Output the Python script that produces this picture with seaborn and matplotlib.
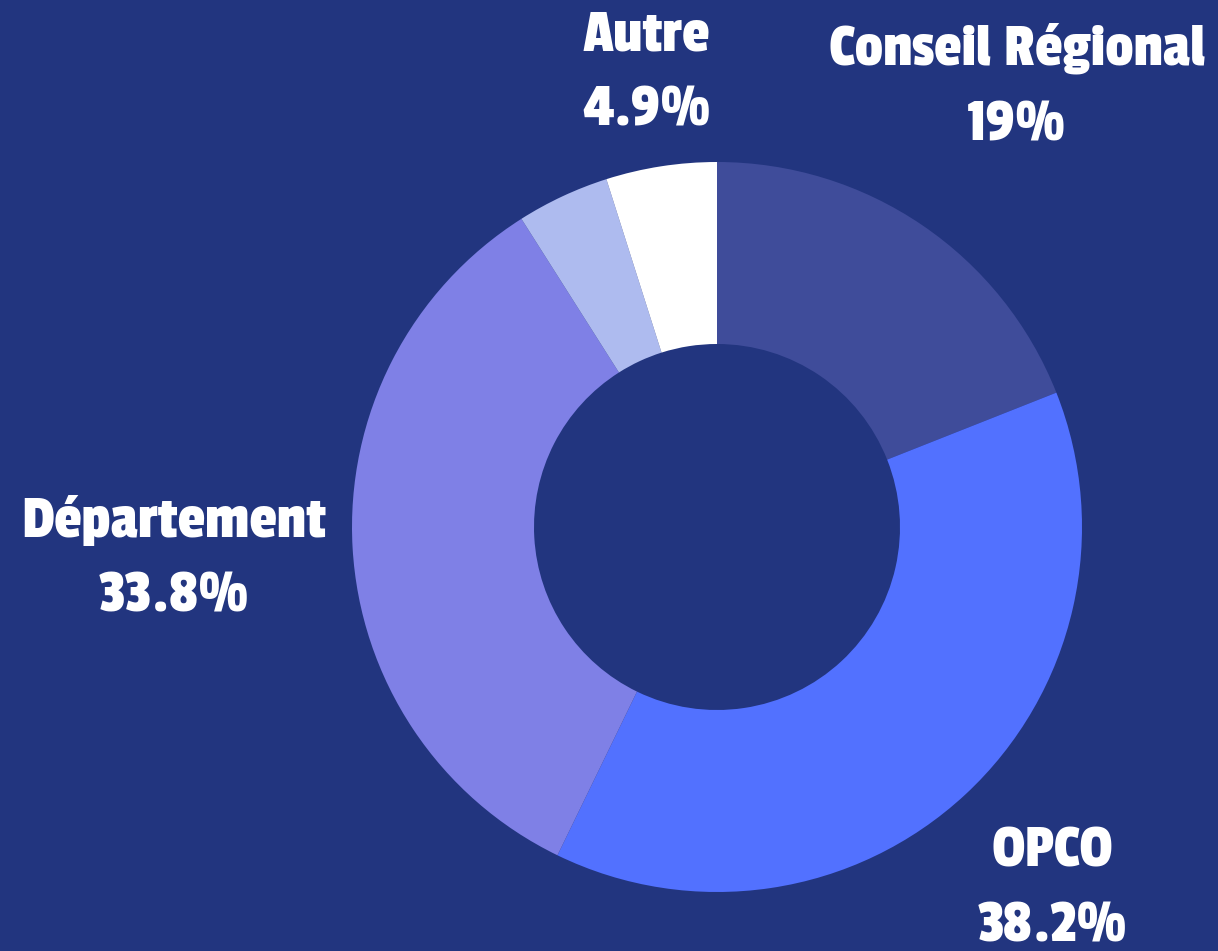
import matplotlib.pyplot as plt
import seaborn as sns
import numpy as np

# =========================
# DATA
# =========================
labels = ["Conseil Régional", "OPCO", "Département", "", "Autre"]
values = [19.0, 38.2, 33.8, 4.1, 4.9]
pct_text = ["19%", "38.2%", "33.8%", "", "4.9%"]
hex_colors = ["#3F4C9A", "#5271FF", "#7F80E6", "#AEBBEF", "#FFFFFF"]

# label distance (in radii) for each slice
label_r = [1.46, 1.35, 1.49, 0, 1.26]

BG = "#22357F"

sns.set_theme(style="white")
plt.rcParams['font.family'] = ['Passion One', 'DejaVu Sans']

fig = plt.figure(figsize=(12.18, 9.51), dpi=100, facecolor=BG)
ax = fig.add_axes([0, 0, 1, 1])
ax.set_facecolor(BG)

R = 365
cx, cy = 717, 424

wedges, _ = ax.pie(
    values,
    colors=sns.color_palette(hex_colors),
    startangle=90,
    counterclock=False,
    center=(cx, cy),
    radius=R,
    wedgeprops=dict(width=182, edgecolor="none", linewidth=0),
)

# =========================
# LABELS
# =========================
for w, name, pct, r in zip(wedges, labels, pct_text, label_r):
    if not name:
        continue
    ang = np.deg2rad((w.theta1 + w.theta2) / 2)
    x = cx + r * R * np.cos(ang)
    y = cy + r * R * np.sin(ang)
    ax.text(x, y, f"{name}\n{pct}", ha="center", va="center",
            color="white", fontsize=45, linespacing=1.65)

ax.set_xlim(0, 1218)
ax.set_ylim(0, 951)
ax.set_aspect("equal")
ax.axis("off")

plt.savefig("out.png", facecolor=BG)
